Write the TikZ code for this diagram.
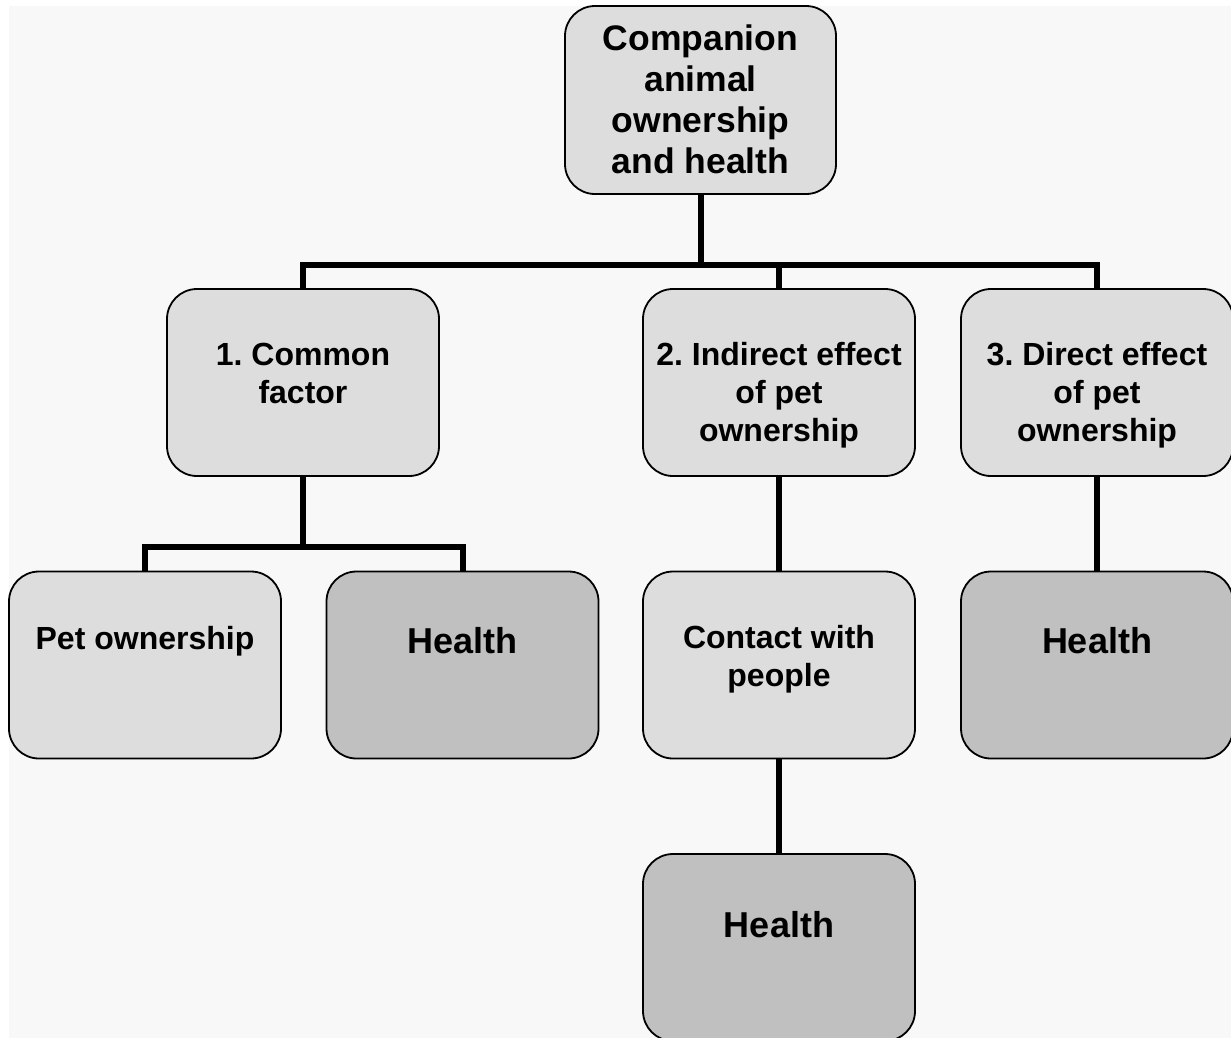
\documentclass[tikz,border=0pt]{standalone}
\usepackage{fontspec}
\setmainfont{Liberation Sans}
\frenchspacing
\pgfdeclarelayer{back}
\pgfdeclarelayer{mid}
\pgfsetlayers{back,mid,main}
\definecolor{bgc}{HTML}{F8F8F8}
\definecolor{lightbox}{HTML}{DDDDDD}
\definecolor{darkbox}{HTML}{C0C0C0}
\tikzset{
  box/.style={draw=black, line width=1.8pt, rounded corners=30pt,
    minimum width=272pt, minimum height=187pt, inner sep=0pt, fill=lightbox},
  dbox/.style={box, fill=darkbox},
  txt/.style={align=center, anchor=base, inner sep=0pt,
    font=\frenchspacing\bfseries\fontsize{32}{38}\selectfont},
  bigtxt/.style={align=center, anchor=base, inner sep=0pt,
    font=\frenchspacing\bfseries\fontsize{36}{41}\selectfont},
  conn/.style={line width=6pt, line join=miter, draw=black}
}
\begin{document}
\begin{tikzpicture}[x=1pt,y=-1pt]
\useasboundingbox (0,0) rectangle (1231,1037);
\clip (0,0) rectangle (1231,1037);
\begin{pgfonlayer}{back}
  \fill[bgc] (9,6) rectangle (1240,1045);
\end{pgfonlayer}
% boxes
\node[box, minimum height=188pt, minimum width=271pt] (top) at (700.5,100) {};
\node[box] (b1) at (303,382.5) {};
\node[box] (b2) at (779,382.5) {};
\node[box] (b3) at (1097,382.5) {};
\node[box] (c1) at (145,665) {};
\node[dbox] (c2) at (462.5,665) {};
\node[box] (c3) at (779,665) {};
\node[dbox] (c4) at (1097,665) {};
\node[dbox] (d) at (779,947.5) {};
% texts (anchor base = baseline of the last line)
\node[bigtxt, font=\frenchspacing\bfseries\fontsize{35.5}{41}\selectfont] (ttop) at (700.5,173) {Companion\\animal\\ownership\\and health};
\node[txt] (tb1) at (303,403) {1. Common\\factor};
\node[txt] (tb2) at (779,441) {2. Indirect effect\\of pet\\ownership};
\node[txt] (tb3) at (1097,441) {3. Direct effect\\of pet\\ownership};
\node[txt] (tc1) at (145,649) {Pet ownership};
\node[bigtxt] (tc2) at (462.5,653) {Health};
\node[txt] (tc3) at (779,686) {Contact with\\people};
\node[bigtxt] (tc4) at (1097,653) {Health};
\node[bigtxt] (td) at (779,937) {Health};
% connectors
\coordinate (j1) at (700.5,265);
\coordinate (j2) at (303,547);
\begin{pgfonlayer}{mid}
  \draw[conn] (top.south) -- (j1);
  \draw[conn] (j1) -| (b1.north);
  \draw[conn] (j1) -| (b2.north);
  \draw[conn] (j1) -| (b3.north);
  \draw[conn] (b1.south) -- (j2);
  \draw[conn] (j2) -| (c1.north);
  \draw[conn] (j2) -| (c2.north);
  \draw[conn] (b2.south) -- (c3.north);
  \draw[conn] (c3.south) -- (d.north);
  \draw[conn] (b3.south) -- (c4.north);
\end{pgfonlayer}
\end{tikzpicture}
\end{document}
